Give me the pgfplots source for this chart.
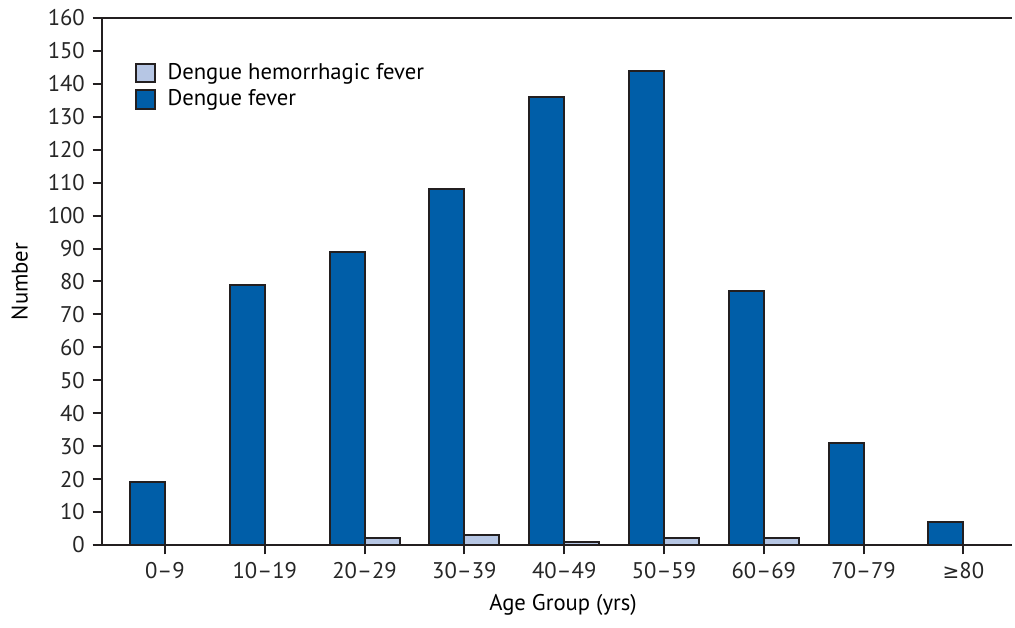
\documentclass[border=0pt]{standalone}
\usepackage{pgfplots}
\pgfplotsset{compat=1.18}
\usepackage{fontspec}
\setmainfont{PT Sans}
\newfontfamily\dejavu{DejaVu Sans}
\definecolor{dfblue}{RGB}{0,94,168}
\definecolor{dhfblue}{RGB}{182,198,228}
\definecolor{edge}{RGB}{35,31,32}
\begin{document}
\fontsize{17pt}{20pt}\selectfont
\begin{tikzpicture}
\begin{axis}[
  at={(0,0)}, anchor=south west,
  scale only axis,
  width=682.5pt, height=395.25pt,
  xmin=-0.631, xmax=8.487,
  ymin=0, ymax=160,
  ytick={0,10,...,160},
  xtick={0,...,8},
  xticklabels={0–9,10–19,20–29,30–39,40–49,50–59,60–69,70–79,{{\dejavu\fontsize{15pt}{18pt}\selectfont ≥}80}},
  axis x line=bottom, axis y line=left,
  axis line style={edge, line width=1.5pt, -},
  tick style={edge, line width=1.5pt},
  tick align=outside,
  major tick length=7pt,
  /pgf/number format/assume math mode=true,
  ticklabel style={font=\fontsize{17pt}{20pt}\selectfont, text=black!85},
  every axis y label/.style={at={(axis description cs:-0.0905,0.5)}, rotate=90, anchor=center, font=\fontsize{17pt}{20pt}\selectfont},
  every axis x label/.style={at={(axis description cs:0.5066,-0.1139)}, anchor=center, font=\fontsize{17pt}{20pt}\selectfont},
  ylabel={Number},
  xlabel={Age Group (yrs)},
  ybar, bar width=0.35,
  clip=false,
  legend style={at={(axis description cs:0.0314,0.925)}, anchor=north west, draw=none, fill=none,
    font=\fontsize{17pt}{20pt}\selectfont, row sep=1.5pt},
  legend cell align=left,
  legend image code/.code={\draw[#1, line width=1.5pt] (0pt,-7pt) rectangle (14pt,7pt); \path (21pt,0pt);},
]
\addplot[bar shift=0.175, fill=dhfblue, draw=edge, line width=1.5pt] coordinates {(0,0) (1,0) (2,2) (3,3) (4,1) (5,2) (6,2) (7,0) (8,0)};
\addlegendentry{Dengue hemorrhagic fever}
\addplot[bar shift=-0.175, fill=dfblue, draw=edge, line width=1.5pt] coordinates {(0,19) (1,79) (2,89) (3,108) (4,136) (5,144) (6,77) (7,31) (8,7)};
\addlegendentry{Dengue fever}
\draw[edge, line width=1.5pt] (rel axis cs:0,1) -- (rel axis cs:1,1);
\end{axis}
\pgfresetboundingbox
\path (-76.5pt,-62.25pt) rectangle (684.75pt,408.75pt);
\end{tikzpicture}
\end{document}
